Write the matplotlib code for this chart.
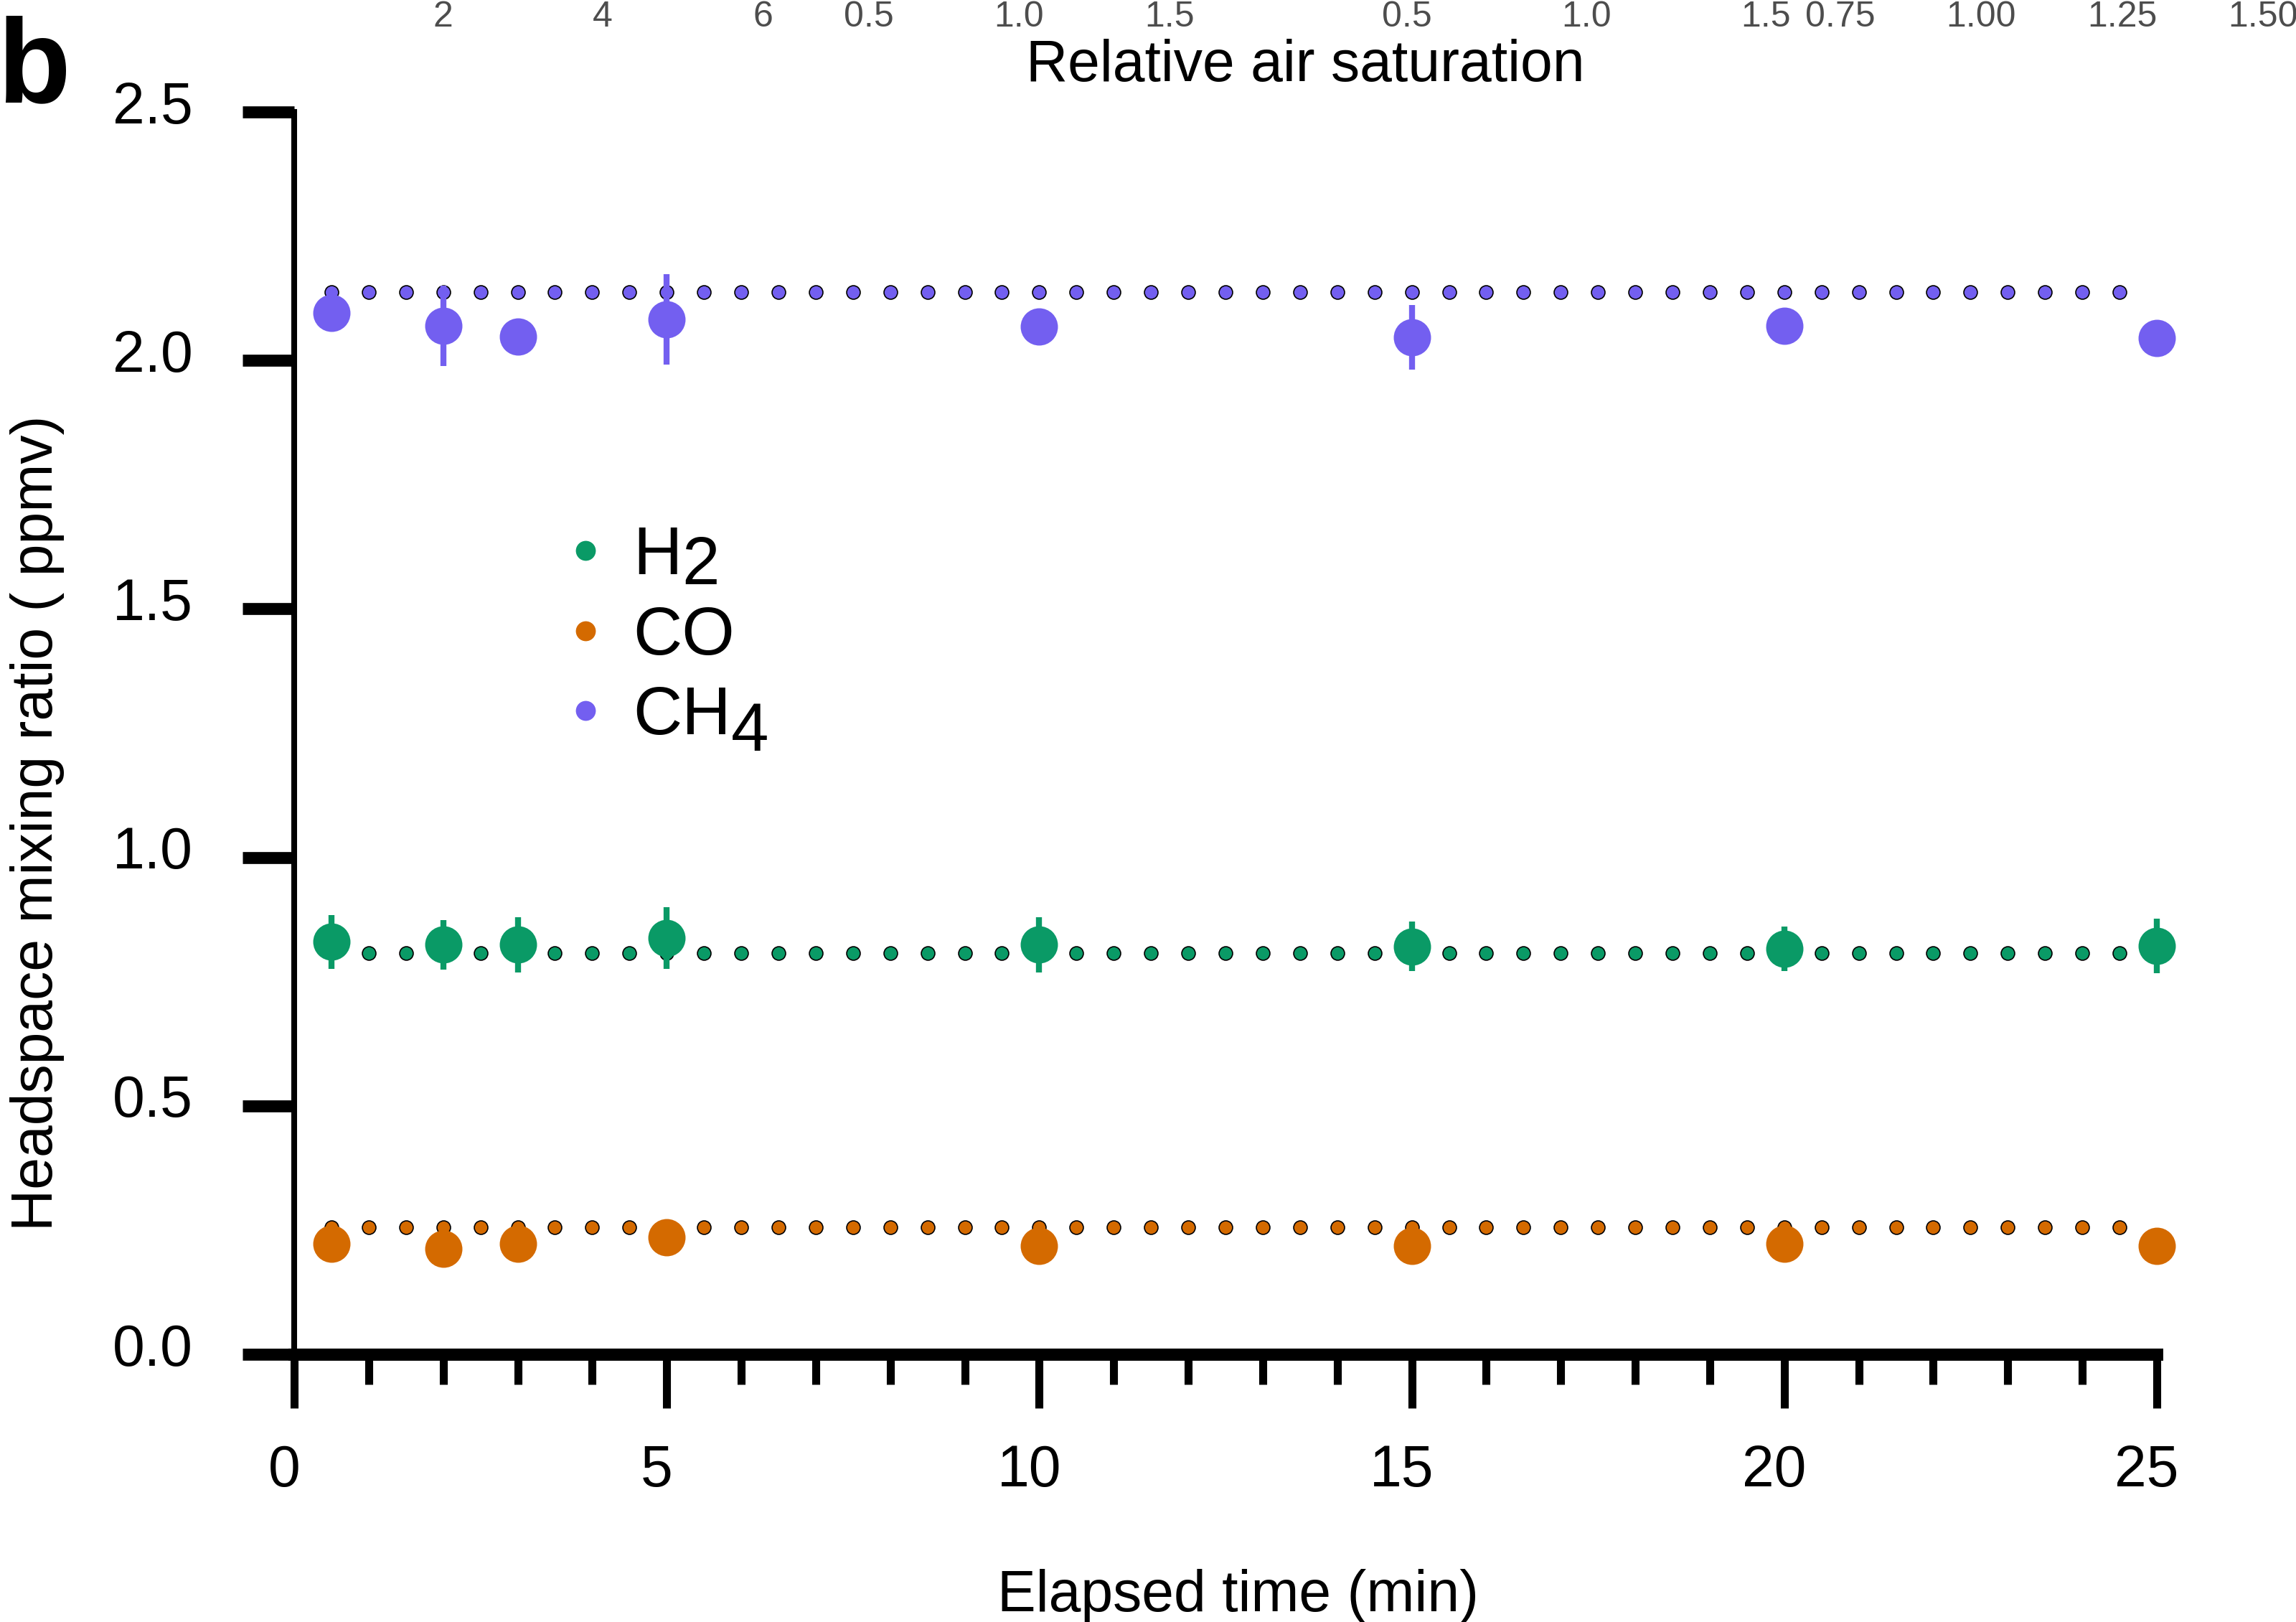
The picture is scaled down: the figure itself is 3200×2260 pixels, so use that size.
import numpy as np
import matplotlib.pyplot as plt
from matplotlib.lines import Line2D
from matplotlib.ticker import MultipleLocator, FormatStrFormatter
from matplotlib.transforms import ScaledTranslation

plt.rcParams['font.family'] = ['Liberation Sans', 'DejaVu Sans']

# measured headspace mixing ratios (ppmv) with error bars
time_min = [0.5, 2, 3, 5, 10, 15, 20, 25]
h2 = [0.830, 0.824, 0.824, 0.838, 0.824, 0.821, 0.816, 0.822]
h2_err = [0.054, 0.050, 0.056, 0.062, 0.055, 0.050, 0.045, 0.055]
co = [0.222, 0.212, 0.222, 0.235, 0.218, 0.218, 0.222, 0.218]
co_err = [0.02, 0.02, 0.02, 0.02, 0.02, 0.02, 0.02, 0.02]
ch4 = [2.095, 2.070, 2.048, 2.082, 2.068, 2.046, 2.070, 2.045]
ch4_err = [0.03, 0.081, 0.02, 0.091, 0.03, 0.065, 0.03, 0.03]

# ambient air levels (dotted reference rows)
air_time = np.arange(0.5, 24.51, 0.5)
h2_air = 0.808
co_air = 0.256
ch4_air = 2.137

gases = ['H', 'CO', 'CH']
subscripts = ['2', '', '4']
colors = ['#0a9a66', '#d46a00', '#735ff0']

# top "relative air saturation" tick groups
sat_ticks = [[2, 4, 6], [0.5, 1.0, 1.5], [0.5, 1.0, 1.5], [0.75, 1.00, 1.25, 1.50]]
sat_labels = [['2', '4', '6'], ['0.5', '1.0', '1.5'], ['0.5', '1.0', '1.5'],
              ['0.75', '1.00', '1.25', '1.50']]
sat_spans = [(617, 1063), (1211, 1630), (1961, 2461), (2565, 3154)]

W, H = 3200, 2260
fig = plt.figure(figsize=(16, 11.3), dpi=200)
ax = fig.add_axes([410 / W, (H - 1887) / H, (3006 - 410) / W, (1887 - 156) / H])

for vals, air, c in zip([h2, co, ch4], [h2_air, co_air, ch4_air], colors):
    ax.plot(air_time, [air] * len(air_time), 'o', ls='none', ms=6.8, mfc=c,
            mec='black', mew=0.6, zorder=2, clip_on=False)
for vals, err, c in zip([h2, co, ch4], [h2_err, co_err, ch4_err], colors):
    ax.errorbar(time_min, vals, yerr=err, fmt='o', ms=18.7, color=c, mec='none',
                elinewidth=3, capsize=0, zorder=3, clip_on=False)

ax.set_xlim(0, 25)
ax.set_ylim(0, 2.5)
ax.xaxis.set_major_locator(MultipleLocator(5))
ax.xaxis.set_minor_locator(MultipleLocator(1))
ax.yaxis.set_major_locator(MultipleLocator(0.5))
ax.yaxis.set_major_formatter(FormatStrFormatter('%.1f'))
for s in ['top', 'right']:
    ax.spines[s].set_visible(False)
ax.spines['left'].set_linewidth(2.9)
ax.spines['bottom'].set_linewidth(6.1)
ax.tick_params(axis='y', length=26, width=6, pad=25, labelsize=29)
ax.tick_params(axis='x', which='major', length=27, width=4, pad=18, labelsize=29)
ax.tick_params(axis='x', which='minor', length=15, width=4)

# labels sit slightly left of / above their ticks in the original
for lab in ax.get_xticklabels():
    lab.set_transform(lab.get_transform() + ScaledTranslation(-5 / 72, 0, fig.dpi_scale_trans))
for lab in ax.get_yticklabels():
    lab.set_transform(lab.get_transform() + ScaledTranslation(0, 5 / 72, fig.dpi_scale_trans))

handles = [Line2D([], [], marker='o', ls='none', ms=10, color=c, mec='none') for c in colors]
leg = ax.legend(handles, gases, loc='upper left', bbox_to_anchor=(769 / W, (H - 731) / H),
                bbox_transform=fig.transFigure, frameon=False, fontsize=34,
                handlelength=1.0, handletextpad=0.2, labelspacing=0.24,
                borderpad=0, borderaxespad=0)
for txt, sub, dy in zip(leg.get_texts(), subscripts, [-5, 0, -8]):
    if sub:
        ax.annotate(sub, xy=(1, 0), xycoords=txt, xytext=(0, dy), textcoords='offset points',
                    fontsize=34, ha='left', va='bottom', zorder=6)

for ticks, labels, (x0, x1) in zip(sat_ticks, sat_labels, sat_spans):
    tax = fig.add_axes([x0 / W, (H - 47) / H, (x1 - x0) / W, 0.0001])
    tax.set_xlim(ticks[0], ticks[-1])
    tax.set_xticks(ticks, labels)
    tax.xaxis.tick_top()
    tax.tick_params(axis='x', length=0, pad=0, labelsize=18, labelcolor='#4d4d4d')
    tax.set_yticks([])
    for s in tax.spines.values():
        s.set_visible(False)
    tax.patch.set_visible(False)

fig.text(1819 / W, (H - 113) / H, 'Relative air saturation', fontsize=29,
         ha='center', va='baseline')
fig.text(1725 / W, 15 / H, 'Elapsed time (min)', fontsize=29, ha='center', va='baseline')
fig.text(52 / W, (H - 1147) / H, 'Headspace mixing ratio ( ppmv)', fontsize=29,
         rotation=90, ha='center', va='center')
fig.text(-4 / W, (H - 142) / H, 'b', fontsize=60, fontweight='bold', ha='left', va='baseline')

fig.savefig('out.png', dpi=200)
